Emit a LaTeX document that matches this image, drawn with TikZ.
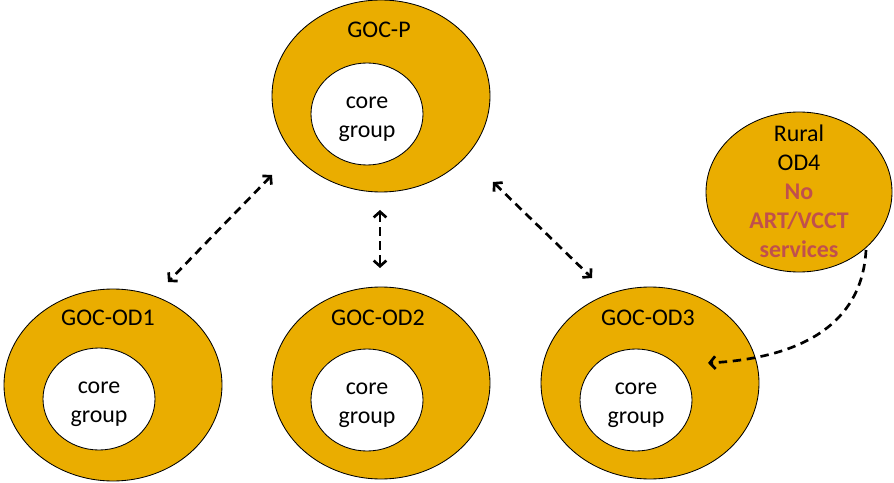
\documentclass[tikz,border=0pt]{standalone}
\usepackage{fontspec}
\setmainfont{Carlito}
\usetikzlibrary{shapes.geometric,arrows.meta}

\definecolor{GroupColor}{RGB}{234,173,0}
\definecolor{WarnColor}{RGB}{192,80,77}
\newcommand{\coretext}{\raisebox{0pt}[\dimexpr\height+5pt\relax]{\begin{tabular}{@{}c@{}}core\\group\end{tabular}}}
\tikzstyle{goc-base}=[ellipse,
                      draw=black,
                      line width=0.6pt,
                      inner sep=0pt,
                      text centered,
                     ]
\tikzstyle{goc-outer}=[goc-base,
                       fill={GroupColor},
                       minimum width=5.45cm,
                       minimum height=4.8cm]
\tikzstyle{goc-core}=[goc-base,
                      fill=white,
                      minimum width=2.8cm,
                      minimum height=2.55cm]
\tikzstyle{goc-rural}=[goc-base,
                       fill={GroupColor},
                       minimum width=4.65cm,
                       minimum height=4.0cm]
\tikzstyle{link}=[line width=1.9pt,
                  dash pattern=on 6pt off 4pt,
                  {Straight Barb[length=4pt,width=9pt]}-{Straight Barb[length=4pt,width=9pt]}]

\begin{document}
\begin{tikzpicture}[every node/.style={font=\fontsize{17}{20.5}\selectfont}]
    \useasboundingbox (0,0) rectangle (22.35,-12.075);
    % Groups
    % --------------------------------------------------------------------------
    \node at ( 9.525, -2.4  ) (gocp)   [goc-outer] {};
    \node at ( 2.825, -9.625) (gocod1) [goc-outer] {};
    \node at ( 9.525, -9.575) (gocod2) [goc-outer] {};
    \node at (16.25,  -9.575) (gocod3) [goc-outer] {};
    \node at (19.975, -4.8  ) (od4)    [goc-rural] {};

    \node at ( 9.475, -0.75) (gocp_text)   [] {GOC-P};
    \node at ( 2.7,   -7.95) (gocod1_text) [] {GOC-OD1};
    \node at ( 9.45,  -7.95) (gocod2_text) [] {GOC-OD2};
    \node at (16.2,   -7.95) (gocod3_text) [] {GOC-OD3};

    \node at ( 9.175, -2.85 ) (gocp_core)   [goc-core] {\coretext};
    \node at ( 2.475, -9.975) (gocod1_core) [goc-core] {\coretext};
    \node at ( 9.175, -10.0 ) (gocod2_core) [goc-core] {\coretext};
    \node at (15.9,   -10.0 ) (gocod3_core) [goc-core] {\coretext};

    \node at (19.975, -4.78) (od4_text) [align=center] {Rural\\OD4\\
                                        \textcolor{WarnColor}{\textbf{No}}\\
                                        \textcolor{WarnColor}{\textbf{ART/VCCT}}\\
                                        \textcolor{WarnColor}{\textbf{services}}};

    % Arrow ends
    % --------------------------------------------------------------------------
    \coordinate (gocp_sw)  at ( 6.8,   -4.375);
    \coordinate (gocod1_n) at ( 4.2,   -7.05);
    \coordinate (gocp_s)   at ( 9.5,   -5.25);
    \coordinate (gocod2_n) at ( 9.5,   -6.7);
    \coordinate (gocp_se)  at (12.325, -4.55);
    \coordinate (gocod3_n) at (14.8,   -6.95);
    \coordinate (od4_se)   at (21.65,  -6.25);
    \coordinate (gocod3_e) at (17.7,   -9.075);

    % Arrows
    % --------------------------------------------------------------------------
    \draw[link] (gocp_sw) -- (gocod1_n);
    \draw[link] (gocp_s)  -- (gocod2_n);
    \draw[link] (gocp_se) -- (gocod3_n);
    \draw[link, -{Straight Barb[length=4pt,width=9pt]}] (od4_se) .. controls (21.55,-8.125) and (20.0,-8.95) .. (gocod3_e);
\end{tikzpicture}
\end{document}
